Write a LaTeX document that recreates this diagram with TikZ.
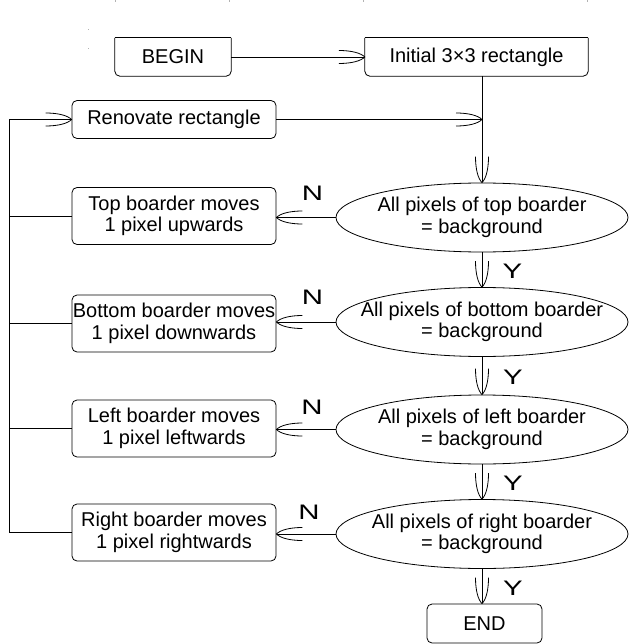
\documentclass[tikz,border=0pt]{standalone}
\usepackage{fontspec}
\setmainfont{Liberation Sans}
\usetikzlibrary{shapes.geometric,arrows.meta}
\pgfdeclarearrow{
  name = CurveBarb,
  parameters = {\the\pgfarrowlength,\the\pgfarrowwidth},
  setup code = {
    \pgfarrowssettipend{0pt}
    \pgfarrowssetlineend{-0.5pt}
    \pgfarrowsupperhullpoint{-\pgfarrowlength}{.5\pgfarrowwidth}
    \pgfarrowsupperhullpoint{0pt}{0pt}
    \pgfarrowssavethe\pgfarrowlength
    \pgfarrowssavethe\pgfarrowwidth
  },
  drawing code = {
    \pgfsetdash{}{0pt}
    \pgfpathmoveto{\pgfqpoint{-\pgfarrowlength}{.5\pgfarrowwidth}}
    \pgfpathcurveto{\pgfqpoint{-.5\pgfarrowlength}{.5\pgfarrowwidth}}{\pgfqpoint{-.15\pgfarrowlength}{.3\pgfarrowwidth}}{\pgfqpoint{0pt}{0pt}}
    \pgfpathcurveto{\pgfqpoint{-.15\pgfarrowlength}{-.3\pgfarrowwidth}}{\pgfqpoint{-.5\pgfarrowlength}{-.5\pgfarrowwidth}}{\pgfqpoint{-\pgfarrowlength}{-.5\pgfarrowwidth}}
    \pgfusepathqstroke
  },
  defaults = {length = 26pt, width = 13pt}
}
\begin{document}
\begin{tikzpicture}[x=1pt,y=-1pt,
  every node/.style={font=\fontsize{20}{21.5}\selectfont, align=center},
  ln/.style={line width=0.8pt},
  box/.style={draw, ln, rounded corners=5pt, minimum width=204pt, minimum height=57pt, inner sep=0pt},
  topbox/.style={minimum height=38pt, inner sep=0pt},
  dec/.style={draw, ln, ellipse, minimum width=292pt, minimum height=69pt, inner sep=0pt},
  dtext/.style={inner sep=0pt},
  lbl/.style={font=\fontsize{21}{21}\selectfont, inner sep=0pt},
  arr/.style={-{CurveBarb[length=26pt,width=13pt]}}]
\useasboundingbox (0,0) rectangle (628,644);
% faint marks
\foreach \xx in {115,229,363,587} \fill[gray!60] (\xx-0.5,0) rectangle (\xx+0.5,2.5);
\fill[gray!60] (88,29.5) rectangle (89,30.5);
\fill[gray!60] (88,48.5) rectangle (89,49.5);
% top row
\node[topbox, minimum width=116pt] (begin) at (173,57) {BEGIN};
\node[topbox, minimum width=223pt] (init) at (476.5,57) {Initial 3×3 rectangle};
\draw[ln, rounded corners=5pt] (begin.north west) -- (begin.south west) -- (begin.south east) -- (begin.north east);
\draw[ln] (begin.north west) -- (begin.north east);
\draw[ln, rounded corners=5pt] (init.north west) -- (init.south west) -- (init.south east) -- (init.north east);
\draw[ln] (init.north west) -- (init.north east);
% left boxes
\node[box, minimum height=38pt] (ren) at (174,119.5) {Renovate rectangle};
\node[box] (tb) at (174,216) {Top boarder moves\\1 pixel upwards};
\node[box] (bb) at (174,323.5) {Bottom boarder moves\\1 pixel downwards};
\node[box] (lb) at (174,428.5) {Left boarder moves\\1 pixel leftwards};
\node[box] (rb) at (174,532.5) {Right boarder moves\\1 pixel rightwards};
% decisions
\node[dec] (e1) at (482,217.5) {};
\node[dec] (e2) at (482,322) {};
\node[dec] (e3) at (482,429.5) {};
\node[dec] (e4) at (482,534) {};
\node[dtext] (t1) at (e1) {All pixels of top boarder\\= background};
\node[dtext] (t2) at (e2) {All pixels of bottom boarder\\= background};
\node[dtext] (t3) at (e3) {All pixels of left boarder\\= background};
\node[dtext] (t4) at (e4) {All pixels of right boarder\\= background};
\node[box, minimum width=115pt, minimum height=39pt] (end) at (484.5,623.5) {END};
% labels
\node[lbl] (n1) at (312.5,193) {\scalebox{1.4}[1]{N}};
\node[lbl] (n2) at (312.5,297) {\scalebox{1.4}[1]{N}};
\node[lbl] (n3) at (312,407) {\scalebox{1.4}[1]{N}};
\node[lbl] (n4) at (309,512) {\scalebox{1.4}[1]{N}};
\node[lbl] (y1) at (512.5,271) {\scalebox{1.4}[1]{Y}};
\node[lbl] (y2) at (513,377) {\scalebox{1.4}[1]{Y}};
\node[lbl] (y3) at (513,483) {\scalebox{1.4}[1]{Y}};
\node[lbl] (y4) at (513,588) {\scalebox{1.4}[1]{Y}};
% connectors
\coordinate (lp) at (9,0);
\draw[ln, arr] (begin.east) -- (init.west);
\draw[ln, arr] (e1.north |- init.south) -- (e1.north);
\draw[ln, arr] (ren.east) -- (ren.east -| e1.north);
\draw[ln, arr] (e1.south) -- (e2.north);
\draw[ln, arr] (e2.south) -- (e3.north);
\draw[ln, arr] (e3.south) -- (e4.north);
\draw[ln, arr] (e4.south) -- (e4.south |- end.north);
\draw[ln, arr] (e1.west) -- (e1.west -| tb.east);
\draw[ln, arr] (e2.west) -- (e2.west -| bb.east);
\draw[ln, arr] (e3.west) -- (e3.west -| lb.east);
\draw[ln, arr] (e4.west) -- (e4.west -| rb.east);
\draw[ln, arr] (rb.west) -- (rb.west -| lp) |- (ren.west);
\draw[ln] (tb.west) -- (tb.west -| lp);
\draw[ln] (bb.west) -- (bb.west -| lp);
\draw[ln] (lb.west) -- (lb.west -| lp);
\end{tikzpicture}
\end{document}
